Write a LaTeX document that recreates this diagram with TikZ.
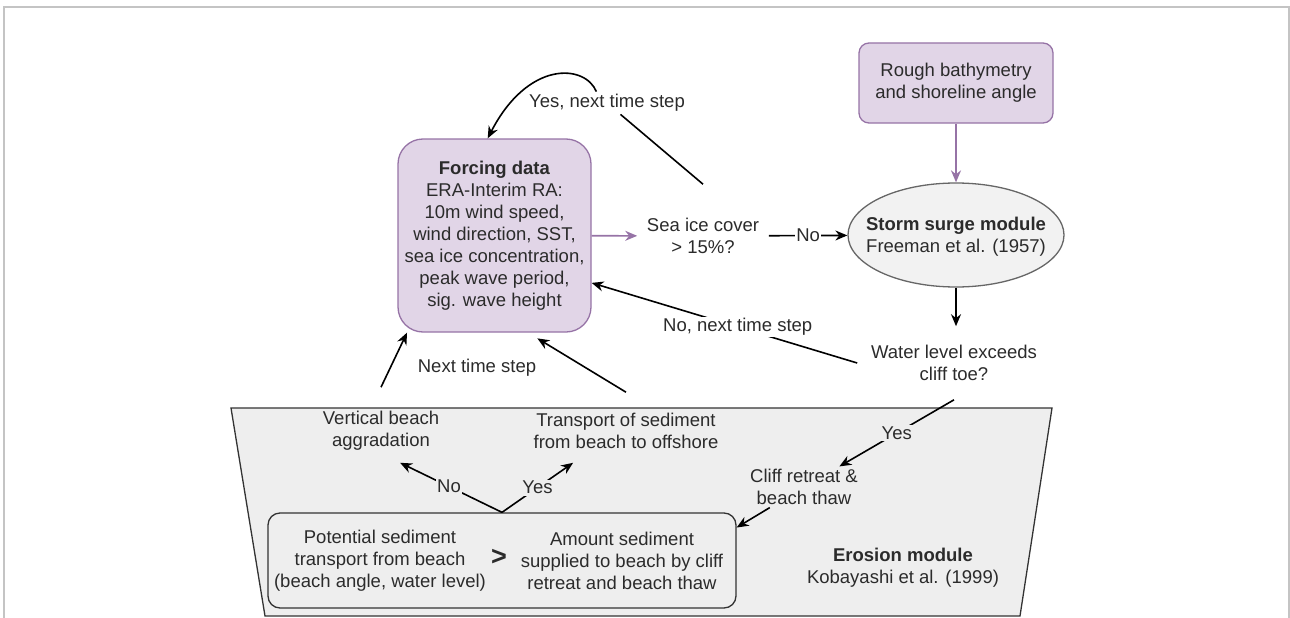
\documentclass[tikz,border=0pt]{standalone}
\usepackage{fontspec}
\setmainfont{Liberation Sans}
\usetikzlibrary{shapes.geometric,arrows.meta}
\definecolor{lilac}{HTML}{E1D5E7}
\definecolor{lilacdraw}{HTML}{9673A6}
\definecolor{modfill}{HTML}{EEEEEE}
\definecolor{moddraw}{HTML}{333333}
\definecolor{surgefill}{HTML}{F2F2F2}
\definecolor{surgedraw}{HTML}{666666}
\definecolor{ink}{HTML}{2B2B2B}
\definecolor{framegrey}{HTML}{C4C4C4}
\tikzset{
	data/.style={draw=lilacdraw, fill=lilac, align=center, inner sep=1pt},
	txt/.style={align=center, inner sep=2pt},
	lblw/.style={fill=white, inner sep=1.5pt},
	lblg/.style={fill=modfill, inner sep=1.5pt},
}
\begin{document}
\begin{tikzpicture}[x=1pt, y=-1pt, font=\fontsize{18.5}{22}\selectfont, text=ink, line width=1.6pt, >={Stealth[length=12pt, width=10pt]}]
		\useasboundingbox (0, 0) rectangle (1290, 618);
		\draw[framegrey, line width=2pt] (4, 620) -- (4, 7) -- (1289, 7) -- (1289, 620);
		\draw[draw=moddraw, fill=modfill, line width=1.3pt] (231, 408) -- (1052, 408) -- (1020, 616) -- (265, 616) -- cycle;
		\node[data, line width=1.3pt, rounded corners=25pt, minimum width=193pt, minimum height=193pt] (F) at (494.5, 235.5) {\textbf{Forcing data}\\ERA-Interim RA:\\10m wind speed,\\wind direction, SST,\\sea ice concentration,\\peak wave period,\\sig. wave height};
		\node[data, line width=1.3pt, rounded corners=10pt, minimum width=194pt, minimum height=80pt] (R) at (956, 83) {Rough bathymetry\\and shoreline angle};
		\node[ellipse, draw=surgedraw, fill=surgefill, line width=1.3pt, minimum width=216pt, minimum height=104pt, label={[align=center, yshift=-2pt]center:{\textbf{Storm surge module}\\Freeman et al. (1957)}}] (S) at (956, 235) {};
		\node[txt, minimum width=130pt, minimum height=102pt] (I) at (703, 236) {Sea ice cover\\> 15\%?};
		\node[txt, minimum width=192pt, minimum height=72pt] (W) at (954, 363) {Water level exceeds\\cliff toe?};
		\node[txt] (Y) at (607, 103) {Yes, next time step};
		\node[txt] (N) at (477, 368) {Next time step};
		\node[txt, minimum height=62pt] (V) at (381, 431) {Vertical beach\\aggradation};
		\node[txt, minimum height=62pt] (T) at (626, 431) {Transport of sediment\\from beach to offshore};
		\node[draw=moddraw, fill=modfill, line width=1.3pt, rounded corners=12pt, minimum width=468pt, minimum height=95pt] (B) at (502, 560.5) {};
		\node[txt] (P) at (380, 561) {Potential sediment\\transport from beach\\(beach angle, water level)};
		\node[font=\fontsize{27}{27}\selectfont\bfseries] (G) at (499, 557) {>};
		\node[txt] (A) at (622, 561) {Amount sediment\\supplied to beach by cliff\\retreat and beach thaw};
		\node[txt] (C) at (804, 487) {Cliff retreat \&\\beach thaw};
		\node[txt] (E) at (903, 568) {\textbf{Erosion module}\\Kobayashi et al. (1999)};
		\draw[->, lilacdraw] (F) -- (I);
		\draw[->, lilacdraw] (R) -- (S);
		\draw[->] (I) -- node[lblw]{No} (S);
		\draw[->] (S) -- (S.south |- W.north);
		\draw[->] (W.west) -- node[lblw, pos=0.45]{No, next time step} (F.-26.7);
		\draw (I.north) -- (Y);
		\draw[->] (Y.133) .. controls (585, 64) and (528, 60) .. (F.94.4);
		\draw[->] (W.south) -- node[lblg]{Yes} (C);
		\draw[->] (C) -- (B.8);
		\draw[->] (B.north) -- node[lblg, pos=0.52]{No} (V.-59);
		\draw[->] (B.north) -- node[lblg]{Yes} (T.-149);
		\draw[->] ([yshift=12pt]V.north) -- (F.-132);
		\draw[->, shorten >=11pt] ([yshift=7pt]T.north) -- (F.-71);
	\end{tikzpicture}
\end{document}
